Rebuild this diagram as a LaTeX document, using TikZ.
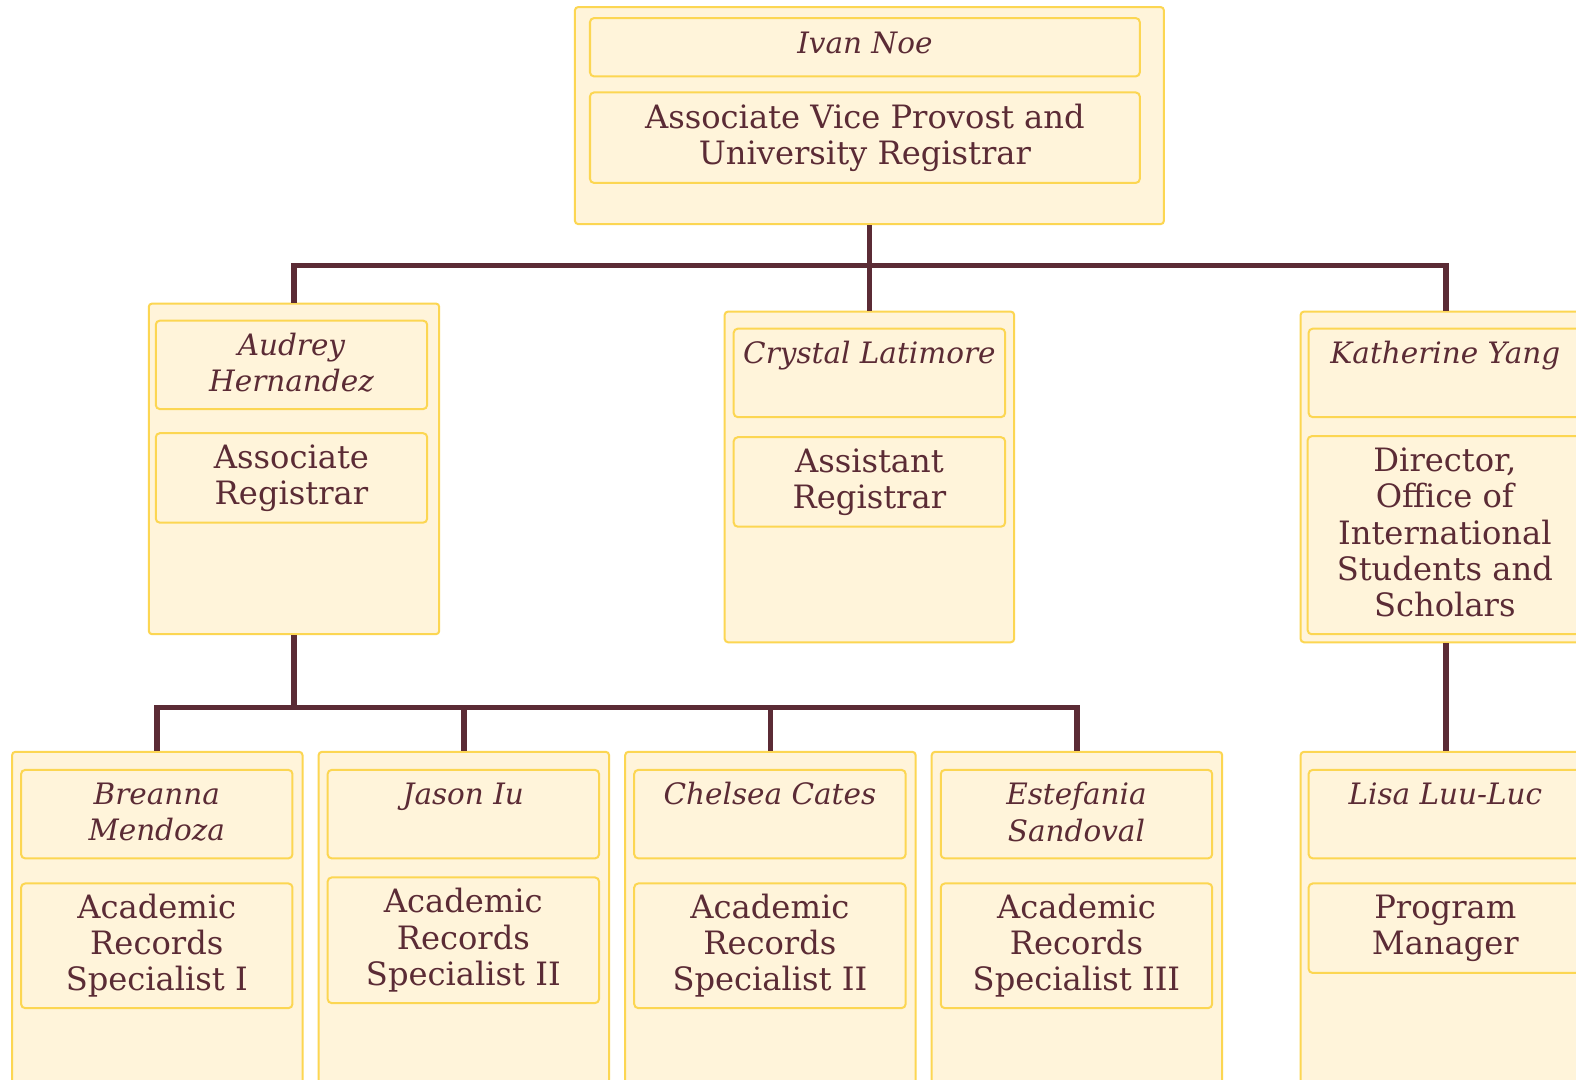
\documentclass[tikz,border=0pt]{standalone}
\usepackage{fontspec}
\setmainfont{DejaVu Serif}
\usetikzlibrary{fit}
\definecolor{ink}{HTML}{5B2B35}
\definecolor{cream}{HTML}{FFF4DA}
\definecolor{gold}{HTML}{FCD652}
\tikzset{
  card/.style={draw=gold, fill=cream, line width=1.5pt, rounded corners=2.5pt, inner sep=0pt},
  field/.style={draw=gold, fill=cream, line width=1.5pt, rounded corners=3pt, inner sep=0pt},
  nametext/.style={text=ink, font=\fontsize{22}{27}\selectfont\itshape, align=center, inner sep=0pt, anchor=north},
  titletext/.style={text=ink, font=\fontsize{24}{27}\selectfont, align=center, inner sep=0pt},
  conn/.style={draw=ink, line width=4.2pt},
}
\begin{document}
\begin{tikzpicture}[x=0.75pt, y=-0.75pt]
\useasboundingbox (0,0) rectangle (1568,1074);
\fill[white] (0,0) rectangle (1568,1074);
\clip (0,0) rectangle (1568,1074);

% Ivan Noe
\node[card, fit={(572,7) (1158,223)}] (ivan) {};
\node[field, fit={(587,18) (1134,76)}] (ivan-n) {};
\node[field, fit={(587,92) (1134,182)}] (ivan-t) {};
\node[nametext] (ivan-nt) at ([yshift=-11pt]ivan-n.north) {Ivan Noe};
\node[titletext] (ivan-tt) at (ivan-t.center) {Associate Vice Provost and\\University Registrar};

% Audrey Hernandez
\node[card, fit={(148,302) (437,631)}] (audrey) {};
\node[field, fit={(155,319) (425,407)}] (audrey-n) {};
\node[field, fit={(155,431) (425,520)}] (audrey-t) {};
\node[nametext] (audrey-nt) at ([yshift=-10pt]audrey-n.north) {Audrey\\Hernandez};
\node[titletext] (audrey-tt) at (audrey-t.center) {Associate\\Registrar};

% Crystal Latimore
\node[card, fit={(721,310) (1009,639)}] (crystal) {};
\node[field, fit={(730,327) (1000,415)}] (crystal-n) {};
\node[field, fit={(730,435) (1000,524)}] (crystal-t) {};
\node[nametext] (crystal-nt) at ([yshift=-10pt]crystal-n.north) {Crystal Latimore};
\node[titletext] (crystal-tt) at (crystal-t.center) {Assistant\\Registrar};

% Katherine Yang
\node[card, fit={(1294,310) (1583,639)}] (katherine) {};
\node[field, fit={(1302,327) (1574,415)}] (katherine-n) {};
\node[field, fit={(1301,434) (1574,631)}] (katherine-t) {};
\node[nametext] (katherine-nt) at ([yshift=-10pt]katherine-n.north) {Katherine Yang};
\node[titletext] (katherine-tt) at ([yshift=2pt]katherine-t.center) {Director,\\Office of\\International\\Students and\\Scholars};

% Breanna Mendoza
\node[card, fit={(12,748) (301,1100)}] (breanna) {};
\node[field, fit={(21,766) (291,854)}] (breanna-n) {};
\node[field, fit={(21,879) (291,1003)}] (breanna-t) {};
\node[nametext] (breanna-nt) at ([yshift=-10pt]breanna-n.north) {Breanna\\Mendoza};
\node[titletext] (breanna-tt) at (breanna-t.center) {Academic\\Records\\Specialist I};

% Jason Iu
\node[card, fit={(317,748) (606,1100)}] (jason) {};
\node[field, fit={(326,766) (596,854)}] (jason-n) {};
\node[field, fit={(326,873) (596,998)}] (jason-t) {};
\node[nametext] (jason-nt) at ([yshift=-10pt]jason-n.north) {Jason Iu};
\node[titletext] (jason-tt) at (jason-t.center) {Academic\\Records\\Specialist II};

% Chelsea Cates
\node[card, fit={(622,748) (911,1100)}] (chelsea) {};
\node[field, fit={(631,766) (901,854)}] (chelsea-n) {};
\node[field, fit={(631,879) (901,1003)}] (chelsea-t) {};
\node[nametext] (chelsea-nt) at ([yshift=-10pt]chelsea-n.north) {Chelsea Cates};
\node[titletext] (chelsea-tt) at (chelsea-t.center) {Academic\\Records\\Specialist II};

% Estefania Sandoval
\node[card, fit={(927,748) (1216,1100)}] (estefania) {};
\node[field, fit={(936,766) (1206,854)}] (estefania-n) {};
\node[field, fit={(936,879) (1206,1003)}] (estefania-t) {};
\node[nametext] (estefania-nt) at ([yshift=-10pt]estefania-n.north) {Estefania\\Sandoval};
\node[titletext] (estefania-tt) at (estefania-t.center) {Academic\\Records\\Specialist III};

% Lisa Luu-Luc
\node[card, fit={(1294,748) (1583,1100)}] (lisa) {};
\node[field, fit={(1302,766) (1574,854)}] (lisa-n) {};
\node[field, fit={(1302,879) (1574,968)}] (lisa-t) {};
\node[nametext] (lisa-nt) at ([yshift=-10pt]lisa-n.north) {Lisa Luu-Luc};
\node[titletext] (lisa-tt) at (lisa-t.center) {Program\\Manager};

% connectors
\draw[conn] (ivan.south) -- ++(0,40) coordinate (j1);
\draw[conn] (j1) -| (audrey.north);
\draw[conn] (j1) -| (katherine.north);
\draw[conn] (j1) -- (crystal.north);
\draw[conn] (audrey.south) -- ++(0,72) coordinate (j2);
\draw[conn] (j2) -| (breanna.north);
\draw[conn] (j2) -| (estefania.north);
\draw[conn] (j2 -| jason.north) -- (jason.north);
\draw[conn] (j2 -| chelsea.north) -- (chelsea.north);
\draw[conn] (katherine.south) -- (lisa.north);
\end{tikzpicture}
\end{document}
